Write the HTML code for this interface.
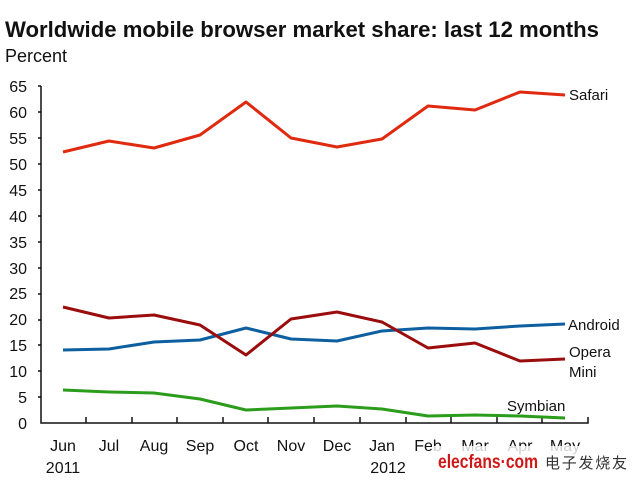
<!DOCTYPE html>
<html><head><style>body{margin:0;background:#fff}svg{display:block}text{font-family:"Liberation Sans","DejaVu Sans",sans-serif}</style></head><body>
<svg width="640" height="480" viewBox="0 0 640 480" xmlns="http://www.w3.org/2000/svg">
<text x="5" y="37" font-size="22" font-weight="bold" fill="#111" textLength="594" lengthAdjust="spacingAndGlyphs">Worldwide mobile browser market share: last 12 months</text>
<text x="5" y="62" font-size="18" fill="#111">Percent</text>
<g font-size="16" fill="#111" text-anchor="end">
<text x="27" y="429">0</text><text x="27" y="403">5</text><text x="27" y="377">10</text><text x="27" y="351">15</text><text x="27" y="325">20</text><text x="27" y="299">25</text><text x="27" y="274">30</text><text x="27" y="248">35</text><text x="27" y="222">40</text><text x="27" y="196">45</text><text x="27" y="170">50</text><text x="27" y="144">55</text><text x="27" y="118">60</text><text x="27" y="92">65</text>
</g>
<g stroke="#111" stroke-width="1.5" fill="none">
<path d="M41 86V423H588V417"/>
<path d="M38 86H41M38 112H41M38 138H41M38 164H41M38 190H41M38 216H41M38 242H41M38 268H41M38 294H41M38 320H41M38 345H41M38 371H41M38 397H41"/>
<path d="M86 423V417M132 423V417M177 423V417M223 423V417M268 423V417M314 423V417M360 423V417M406 423V417M451 423V417M497 423V417M542 423V417"/>
</g>
<g font-size="16" fill="#111" text-anchor="middle">
<text x="63" y="451">Jun</text><text x="109" y="451">Jul</text><text x="154" y="451">Aug</text><text x="200" y="451">Sep</text><text x="246" y="451">Oct</text><text x="291" y="451">Nov</text><text x="337" y="451">Dec</text><text x="382" y="451">Jan</text><text x="428" y="451">Feb</text><text x="475" y="451">Mar</text><text x="520" y="451">Apr</text><text x="565" y="451">May</text>
<text x="63" y="473">2011</text><text x="388" y="473">2012</text>
</g>
<g fill="none" stroke-width="3" stroke-linejoin="round">
<polyline stroke="#e02a10" points="63,152 109,141 154,148 200,135 246,102 291,138 337,147 382,139 428,106 475,110 520,92 565,95"/>
<polyline stroke="#0d5fa0" points="63,350 109,349 154,342 200,340 246,328 291,339 337,341 382,331 428,328 475,329 520,326 565,324"/>
<polyline stroke="#9b0d0d" points="63,307 109,318 154,315 200,325 246,355 291,319 337,312 382,322 428,348 475,343 520,361 565,359"/>
<polyline stroke="#2c9c1c" points="63,390 109,392 154,393 200,399 246,410 291,408 337,406 382,409 428,416 475,415 520,416 565,418"/>
</g>
<g font-size="15" fill="#111">
<text x="569" y="100">Safari</text>
<text x="568" y="330">Android</text>
<text x="569" y="357">Opera</text><text x="569" y="377">Mini</text>
<text x="507" y="411">Symbian</text>
</g>
<g>
<rect x="432" y="446" width="208" height="34" fill="#fff" opacity="0.8"/>
<text x="438" y="468" font-size="19" font-weight="bold" fill="#d01818" textLength="100" lengthAdjust="spacingAndGlyphs">elecfans·com</text>
<text x="545" y="468" font-size="15" fill="#333" font-family="'Noto Serif CJK SC',serif" textLength="82">电子发烧友</text>
</g>
</svg>
</body></html>
